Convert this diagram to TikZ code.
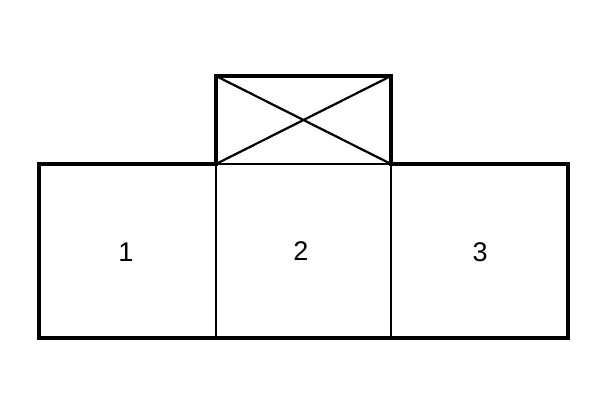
\documentclass[tikz,border=0pt]{standalone}
\usepackage{fontspec}
\setmainfont{Liberation Sans}
\begin{document}
\begin{tikzpicture}[x=1pt,y=-1pt,
  thickline/.style={line width=3.2pt,line cap=rect},
  thinline/.style={line width=1.8pt},
  diag/.style={line width=2.2pt},
  lbl/.style={font=\fontsize{27}{32}\selectfont, inner sep=0pt}]
\useasboundingbox (0,0) rectangle (607,415);
% coordinates
\coordinate (TL) at (39,164);
\coordinate (TR) at (568,164);
\coordinate (BL) at (39,338);
\coordinate (BR) at (568,338);
\coordinate (A) at (216,164);
\coordinate (B) at (391,164);
\coordinate (Ab) at (216,338);
\coordinate (Bb) at (391,338);
\coordinate (At) at (216,76);
\coordinate (Bt) at (391,76);
% outer
\draw[thickline] (A) -- (TL) -- (BL) -- (BR) -- (TR) -- (B);
% top box
\draw[thickline] (A) -- (At) -- (Bt) -- (B);
\draw[diag] (At) -- (B);
\draw[diag] (Bt) -- (A);
% dividers
\draw[line width=2.6pt] (A) -- (Ab);
\draw[thinline] (B) -- (Bb);
\draw[thinline] (A) -- (B);
% labels
\node[lbl] (n1) at (126,252) {1};
\node[lbl] (n2) at (301,251) {2};
\node[lbl] (n3) at (480,252) {3};
\end{tikzpicture}
\end{document}
